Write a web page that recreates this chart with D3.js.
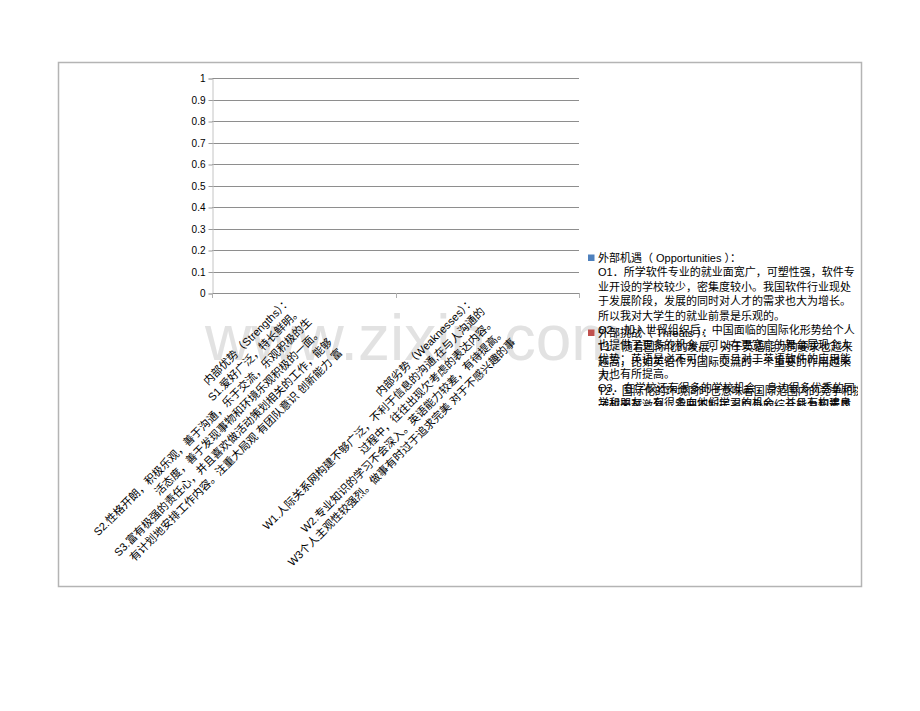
<!DOCTYPE html>
<html>
<head>
<meta charset="utf-8">
<script src="https://cdn.jsdelivr.net/npm/d3@7/dist/d3.min.js"></script>
<style>
  html, body { margin: 0; padding: 0; background: #ffffff; }
  svg { display: block; }
  text { font-family: "Liberation Sans", Arial, "Noto Sans CJK SC", sans-serif; }
</style>
</head>
<body>
<svg id="chart" width="920" height="711"></svg>
<script>
// ---------------- data ----------------
const categories = ["内部优势", "内部劣势"];

const categoryLabelLines = [
  [
    "内部优势（Strengths）：",
    "S1.爱好广泛，特长鲜明。",
    "S2.性格开朗，积极乐观，善于沟通，乐于交流，乐观积极的生",
    "活态度，善于发现事物和环境乐观积极的一面。",
    "S3.富有极强的责任心，并且喜欢做活动策划相关的工作，能够",
    "有计划地安排工作内容。注重大局观 有团队意识 创新能力 富"
  ],
  [
    "内部劣势（Weaknesses）：",
    "W1.人际关系网构建不够广泛，不利于信息的沟通,在与人沟通的",
    "过程中，往往出现欠考虑的表达内容。",
    "W2.专业知识的学习不会深入。英语能力较差，有待提高。",
    "W3个人主观性较强烈。做事有时过于追求完美 对于不感兴趣的事"
  ]
];

const seriesNames = ["外部机遇（Opportunities）", "外部挑战（Threats）"];

const opportunitiesValues = [null, null];
const threatsValues = [null, null];

const opportunitiesLegendLines = [
  "外部机遇（ Opportunities ）：",
  "O1．所学软件专业的就业面宽广，可塑性强，软件专",
  "业开设的学校较少，密集度较小。我国软件行业现处",
  "于发展阶段，发展的同时对人才的需求也大为增长。",
  "所以我对大学生的就业前景是乐观的。",
  "O2．加入世贸组织后，中国面临的国际化形势给个人",
  "也提供了更多的机会，可以在更宽广的舞台展现个人",
  "优势；英语是必不可少，而且对于英语软件的应用能",
  "力也有所提高。",
  "O3．在学校还有很多的学校机会，身边很多优秀的同",
  "学和朋友，有很多向他们学习的机会，并且有构建良"
];

const threatsLegendLines = [
  "外部挑战（ Threats ）：",
  "T1．随着国际化的发展，对于英语能力的要求也越来",
  "越高，比如英语作为国际交流的一个重要的作用越来",
  "大。",
  "T2．国际化的环境同时也意味着国际范围内的竞争和挑",
  "战越来越激烈，需要不断提高自身的综合能力和素质"
];

const yTicks = [0, 0.1, 0.2, 0.3, 0.4, 0.5, 0.6, 0.7, 0.8, 0.9, 1];

const seriesColors = ["#4f81bd", "#c0504d"];

// ---------------- drawing ----------------
const svg = d3.select("#chart");

// outer chart border
svg.append("rect")
  .attr("x", 58.5).attr("y", 62.5)
  .attr("width", 803).attr("height", 524)
  .attr("fill", "#ffffff")
  .attr("stroke", "#b4b4b4")
  .attr("stroke-width", 1.5);

const plot = { left: 212, right: 579, top: 78, bottom: 293 };

const x = d3.scaleBand()
  .domain(categories)
  .range([plot.left, plot.right])
  .paddingInner(0.3).paddingOuter(0.15);

const xEdge = d3.scaleBand()
  .domain(categories)
  .range([plot.left, plot.right])
  .padding(0);

const y = d3.scaleLinear()
  .domain([0, 1])
  .range([plot.bottom, plot.top]);

// watermark (faint, behind everything)
svg.append("text")
  .attr("x", 205).attr("y", 360)
  .attr("font-size", 64)
  .attr("fill", "#e2e2e2")
  .text("www.zixin.com");

// gridlines
svg.append("g")
  .selectAll("line")
  .data(yTicks.filter(d => d > 0))
  .join("line")
  .attr("x1", plot.left).attr("x2", plot.right)
  .attr("y1", d => Math.round(y(d)) + 0.5)
  .attr("y2", d => Math.round(y(d)) + 0.5)
  .attr("stroke", "#8e8e8e")
  .attr("stroke-width", 1);

// y axis
const yAxis = d3.axisLeft(y)
  .tickValues(yTicks)
  .tickFormat(d3.format("~g"))
  .tickSize(4)
  .tickPadding(3);

const gy = svg.append("g")
  .attr("transform", `translate(${plot.left + 0.5},0.5)`)
  .call(yAxis);
gy.select(".domain").attr("stroke", "#c4c4c4");
gy.selectAll(".tick line").attr("stroke", "#9a9a9a");
gy.selectAll(".tick text")
  .attr("font-size", 10)
  .attr("fill", "#000")
  .attr("font-family", "Liberation Sans, Arial, sans-serif");

// bars (series have no values -> nothing drawn)
const seriesData = [opportunitiesValues, threatsValues];
const xSub = d3.scaleBand().domain(d3.range(seriesData.length)).range([0, x.bandwidth()]);
seriesData.forEach((vals, si) => {
  svg.append("g")
    .selectAll("rect")
    .data(vals.map((v, i) => ({ v, c: categories[i] })).filter(d => d.v != null))
    .join("rect")
    .attr("x", d => x(d.c) + xSub(si))
    .attr("width", xSub.bandwidth())
    .attr("y", d => y(d.v))
    .attr("height", d => y(0) - y(d.v))
    .attr("fill", seriesColors[si]);
});

// x axis
svg.append("line")
  .attr("x1", plot.left).attr("x2", plot.right)
  .attr("y1", plot.bottom + 0.5).attr("y2", plot.bottom + 0.5)
  .attr("stroke", "#8e8e8e");

const edges = categories.map(c => xEdge(c)).concat([xEdge(categories[categories.length - 1]) + xEdge.bandwidth()]);
svg.append("g")
  .selectAll("line")
  .data(edges)
  .join("line")
  .attr("x1", d => Math.round(d) + 0.5).attr("x2", d => Math.round(d) + 0.5)
  .attr("y1", plot.bottom).attr("y2", plot.bottom + 5)
  .attr("stroke", "#b0b0b0");

// rotated category labels
const lineH = 14.5;
categories.forEach((c, ci) => {
  const cx = xEdge(c) + xEdge.bandwidth() / 2;
  const g = svg.append("g")
    .attr("transform", `translate(${cx - 12},${plot.bottom + 9}) rotate(-45)`);
  g.selectAll("text")
    .data(categoryLabelLines[ci])
    .join("text")
    .attr("x", 0)
    .attr("y", (d, i) => i * lineH)
    .attr("text-anchor", "end")
    .attr("font-size", 11)
    .attr("fill", "#000")
    .text(d => d);
});

// legend
const defs = svg.append("defs");
defs.append("clipPath").attr("id", "legendClip")
  .append("rect")
  .attr("x", 584).attr("y", 246)
  .attr("width", 274).attr("height", 160);

const legend = svg.append("g").attr("clip-path", "url(#legendClip)");
const legendLines = [opportunitiesLegendLines, threatsLegendLines];
const legendTops = [258, 333];
const legendLineH = 14.45;

legendLines.forEach((lines, si) => {
  legend.append("rect")
    .attr("x", 588).attr("y", legendTops[si] - 3.5)
    .attr("width", 6.5).attr("height", 6.5)
    .attr("fill", seriesColors[si]);
  legend.append("g")
    .selectAll("text")
    .data(lines)
    .join("text")
    .attr("x", 598)
    .attr("y", (d, i) => legendTops[si] + 4 + i * legendLineH)
    .attr("font-size", 11)
    .attr("fill", "#000")
    .text(d => d);
});
</script>
</body>
</html>
